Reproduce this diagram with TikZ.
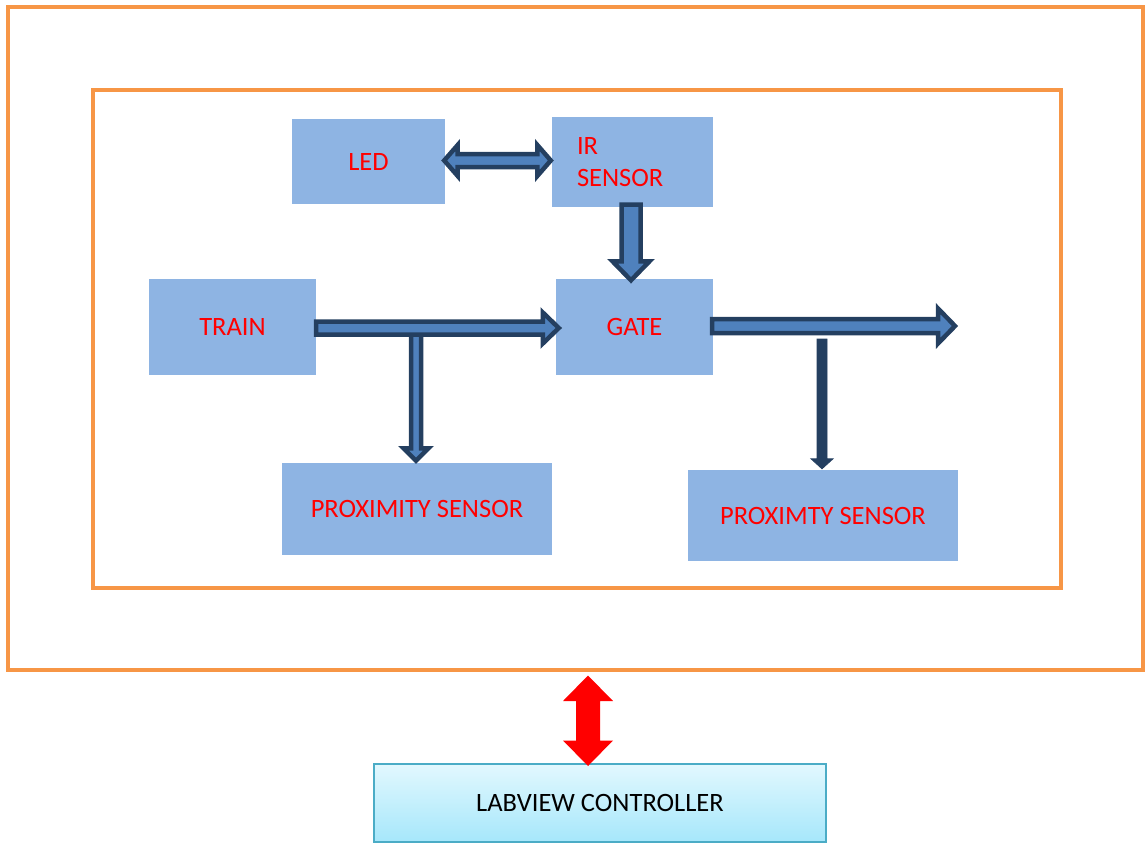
\documentclass[tikz,border=0pt]{standalone}
\usepackage{fontspec}
\setmainfont{Carlito}
\usetikzlibrary{calc}
\definecolor{boxblue}{HTML}{8EB4E3}
\definecolor{orng}{HTML}{F79646}
\definecolor{afill}{HTML}{4F81BD}
\definecolor{aline}{HTML}{243F60}
\definecolor{labtop}{HTML}{E2F8FE}
\definecolor{labbot}{HTML}{A6E7FB}
\definecolor{labline}{HTML}{4BACC6}
\newcommand\fsz{\fontsize{26.5}{32}\selectfont}
% right-pointing block arrow: #1 start, #2 tip, #3 shaft half, #4 head half, #5 head length, #6 style
\newcommand\blockRight[6]{\path[#6] let \p1=(#1), \p2=(#2) in
  (\x1,\y1+#3) -- (\x2-#5,\y1+#3) -- (\x2-#5,\y1+#4) -- (\x2,\y1) -- (\x2-#5,\y1-#4) -- (\x2-#5,\y1-#3) -- (\x1,\y1-#3) -- cycle;}
% down-pointing block arrow
\newcommand\blockDown[6]{\path[#6] let \p1=(#1), \p2=(#2) in
  (\x1-#3,\y1) -- (\x1+#3,\y1) -- (\x1+#3,\y2+#5) -- (\x1+#4,\y2+#5) -- (\x1,\y2) -- (\x1-#4,\y2+#5) -- (\x1-#3,\y2+#5) -- cycle;}
% horizontal double block arrow: #1 left tip, #2 right tip
\newcommand\blockLR[6]{\path[#6] let \p1=(#1), \p2=(#2) in
  (\x1,\y1) -- (\x1+#5,\y1+#4) -- (\x1+#5,\y1+#3) -- (\x2-#5,\y1+#3) -- (\x2-#5,\y1+#4) -- (\x2,\y1) -- (\x2-#5,\y1-#4) -- (\x2-#5,\y1-#3) -- (\x1+#5,\y1-#3) -- (\x1+#5,\y1-#4) -- cycle;}
% vertical double block arrow: #1 top tip, #2 bottom tip
\newcommand\blockUD[6]{\path[#6] let \p1=(#1), \p2=(#2) in
  (\x1,\y1) -- (\x1+#4,\y1-#5) -- (\x1+#3,\y1-#5) -- (\x1+#3,\y2+#5) -- (\x1+#4,\y2+#5) -- (\x1,\y2) -- (\x1-#4,\y2+#5) -- (\x1-#3,\y2+#5) -- (\x1-#3,\y1-#5) -- (\x1-#4,\y1-#5) -- cycle;}
\tikzset{
  frame/.style={draw=orng, line width=4pt, inner sep=0, fill=none},
  blk/.style={fill=boxblue, text=red, font=\fsz, inner sep=0, align=center},
  barrow/.style={fill=afill, draw=aline, line width=4.5pt, line join=miter},
  darrow/.style={fill=aline, draw=aline, line width=0.8pt},
  redarrow/.style={fill=red, draw=none},
  lab/.style={draw=labline, line width=2pt, top color=labtop, bottom color=labbot, text=black, font=\fsz, inner sep=0}
}
\begin{document}
\begin{tikzpicture}[x=1pt,y=-1pt]
\useasboundingbox (0,0) rectangle (1145,843);
% frames
\node[frame, minimum width=1135pt, minimum height=663pt] (outer) at (575.5,338.5) {};
\node[frame, minimum width=968pt, minimum height=498pt] (inner) at (577,339) {};
% blocks
\node[blk, minimum width=153pt, minimum height=85pt] (led) at (368.5,161.5) {LED};
\node[blk, minimum width=161pt, minimum height=90pt, text width=111pt, align=left] (ir) at (632.5,162) {IR\\SENSOR};
\node[blk, minimum width=167pt, minimum height=96pt] (train) at (232.5,327) {TRAIN};
\node[blk, minimum width=157pt, minimum height=96pt] (gate) at (634.5,327) {GATE};
\node[blk, minimum width=270pt, minimum height=92pt] (proxA) at (417,509) {PROXIMITY SENSOR};
\node[blk, minimum width=270pt, minimum height=91pt] (proxB) at (823,515.5) {PROXIMTY SENSOR};
\node[lab, minimum width=452pt, minimum height=78pt] (labview) at (600,803) {LABVIEW CONTROLLER};
% connector points
\coordinate (ledR) at ([xshift=0pt,yshift=1pt]led.east);
\coordinate (irL) at ([xshift=1pt]ir.west |- ledR);
\coordinate (irS) at ([xshift=-1.5pt,yshift=2.5pt]ir.south);
\coordinate (gateN) at ([yshift=-1.5pt]gate.north -| irS);
\coordinate (trE) at ([xshift=0pt,yshift=-1pt]train.east);
\coordinate (gateW) at ([xshift=3pt]gate.west |- trE);
\coordinate (j1) at (416,330);
\coordinate (proxAN) at ([yshift=2pt]proxA.north -| j1);
\coordinate (gateE) at ([xshift=-1pt,yshift=1pt]gate.east);
\coordinate (out) at (955,328);
\coordinate (j2) at (822,339);
\coordinate (proxBN) at ([yshift=1pt]proxB.north -| j2);
\coordinate (ot) at (588,675.5);
\coordinate (lb) at ([yshift=-3pt]labview.north -| ot);
% arrows
\blockLR{[xshift=-1pt]ledR}{[xshift=-2pt]irL}{6.5pt}{15.5pt}{13.5pt}{barrow}
\blockDown{irS}{gateN}{9.5pt}{18.5pt}{19pt}{barrow}
\blockDown{j1}{proxAN}{5pt}{12.5pt}{12.5pt}{barrow}
\blockRight{trE}{gateW}{6.5pt}{15.5pt}{16pt}{barrow}
\blockRight{gateE}{out}{7pt}{17.5pt}{17pt}{barrow}
\blockDown{j2}{proxBN}{5pt}{11pt}{10pt}{darrow}
\blockUD{ot}{lb}{12pt}{25pt}{25.5pt}{redarrow}
\end{tikzpicture}
\end{document}
